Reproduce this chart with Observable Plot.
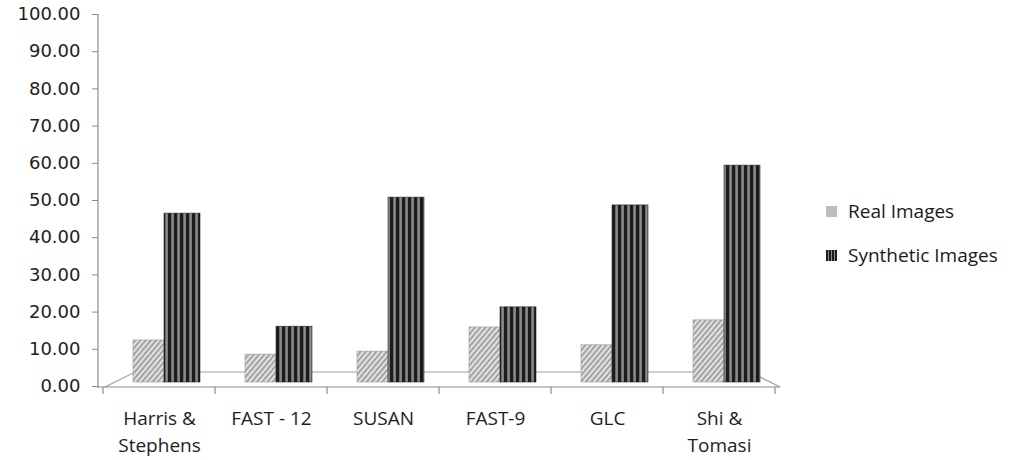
<!DOCTYPE html>
<html>
<head>
<meta charset="utf-8">
<script src="https://cdn.jsdelivr.net/npm/d3@7"></script>
<script src="https://cdn.jsdelivr.net/npm/@observablehq/plot@0.6"></script>
<style>
  html, body { margin: 0; padding: 0; background: #fff; }
  #wrap { position: relative; width: 1015px; height: 460px; }
  #legend { position: absolute; left: 826px; top: 189px; font-family: "Open Sans", sans-serif; font-size: 19px; color: #1a1a1a; }
  .item { display: flex; align-items: center; height: 44px; }
  .sw { width: 11px; height: 11px; margin-right: 11px; }
</style>
</head>
<body>
<div id="wrap"><div id="legend"></div></div>
<script>
// ---- data ----
const categories = ["Harris & Stephens", "FAST - 12", "SUSAN", "FAST-9", "GLC", "Shi & Tomasi"];
const categoryLabels = ["Harris &\nStephens", "FAST - 12", "SUSAN", "FAST-9", "GLC", "Shi &\nTomasi"];
const seriesNames = ["Real Images", "Synthetic Images"];
const realImages = [11.3, 7.5, 8.3, 14.8, 10.0, 16.7];
const syntheticImages = [45.4, 15.0, 49.7, 20.2, 47.6, 58.3];
const yTicks = [0, 10, 20, 30, 40, 50, 60, 70, 80, 90, 100];

const rows = categories.flatMap((c, i) => [
  {category: c, series: seriesNames[0], value: realImages[i]},
  {category: c, series: seriesNames[1], value: syntheticImages[i]}
]);
const labelOf = new Map(categories.map((c, i) => [c, categoryLabels[i]]));

// frame: floor parallelogram, axis lines, category ticks (drawn via scales)
function frame(index, scales, values, dims) {
  const x = scales.x, y = scales.y;
  const g = d3.create("svg:g").attr("fill", "none").attr("stroke", "#8c8c8c").attr("stroke-width", 1.2);
  const y0 = y(0), yTop = y(100);
  const bw = x.bandwidth();
  const xr = x(categories[categories.length - 1]) + bw;
  const left = dims.marginLeft;
  // floor
  g.append("path").attr("d", `M${left + 7},${y0 + 1}L${left + 37},${y0 - 14}L${xr - 25},${y0 - 14}L${xr + 5},${y0 + 1}`).attr("stroke", "#a0a0a0");
  // y axis line
  g.append("line").attr("x1", left).attr("x2", left).attr("y1", yTop).attr("y2", y0 + 2);
  // x axis line
  g.append("line").attr("x1", left).attr("x2", xr + 5).attr("y1", y0 + 1).attr("y2", y0 + 1);
  // category boundary ticks
  const bounds = categories.map(c => x(c)).concat([xr]);
  for (const b of bounds) g.append("line").attr("x1", b).attr("x2", b).attr("y1", y0 + 1).attr("y2", y0 + 8);
  return g.node();
}

const chart = Plot.plot({
  width: 1015,
  height: 460,
  marginLeft: 98,
  marginTop: 14,
  marginBottom: 74,
  marginRight: 240,
  style: {fontFamily: "DejaVu Sans", fontSize: "18px", color: "#1e1e1e", background: "#fff"},
  x: {domain: categories, range: [103, 775], padding: 0, axis: null, label: null},
  y: {domain: [0, 100], axis: null, label: null},
  marks: [
    frame,
    Plot.barY(rows.filter(d => d.series === seriesNames[0]), {
      x: "category", y: "value", dy: -4, insetLeft: 30, insetRight: 51,
      fill: "url(#realPat)", stroke: "#9a9a9a", strokeWidth: 0.6
    }),
    Plot.barY(rows.filter(d => d.series === seriesNames[1]), {
      x: "category", y: "value", dy: -4, insetLeft: 61, insetRight: 15,
      fill: "url(#synPat)", stroke: "#2a2a2a", strokeWidth: 0.6
    }),
    Plot.axisY({ticks: yTicks, tickFormat: d => d.toFixed(2), tickSize: 6, tickPadding: 12, stroke: "#8c8c8c", fontSize: 18, label: null}),
    Plot.axisX({tickSize: 0, tickPadding: 20, tickFormat: d => labelOf.get(d), fontFamily: "Open Sans", fontSize: 19, lineHeight: 1.4, label: null})
  ]
});

const defs = d3.select(chart).insert("defs", ":first-child");
const rp = defs.append("pattern").attr("id", "realPat").attr("patternUnits", "userSpaceOnUse")
  .attr("width", 4).attr("height", 4).attr("patternTransform", "rotate(40)");
rp.append("rect").attr("width", 4).attr("height", 4).attr("fill", "#e2e2e2");
rp.append("rect").attr("width", 1.8).attr("height", 4).attr("fill", "#9d9d9d");
const sp = defs.append("pattern").attr("id", "synPat").attr("patternUnits", "userSpaceOnUse")
  .attr("width", 6).attr("height", 6);
sp.append("rect").attr("width", 6).attr("height", 6).attr("fill", "#1c1c1c");
sp.append("rect").attr("x", 3).attr("width", 1.5).attr("height", 6).attr("fill", "#6a6a6a");
sp.append("rect").attr("x", 4.5).attr("width", 1).attr("height", 6).attr("fill", "#d8d8d8");

document.getElementById("wrap").prepend(chart);

// legend
const legend = d3.select("#legend");
seriesNames.forEach((s, i) => {
  const it = legend.append("div").attr("class", "item");
  const sv = it.append("svg").attr("class", "sw").attr("width", 11).attr("height", 11);
  if (i === 0) {
    sv.append("rect").attr("width", 11).attr("height", 11).attr("fill", "#bdbdbd");
  } else {
    for (let k = 0; k < 11; k += 3) {
      sv.append("rect").attr("x", k).attr("width", 2).attr("height", 11).attr("fill", "#1c1c1c");
      sv.append("rect").attr("x", k + 2).attr("width", 1).attr("height", 11).attr("fill", "#8a8a8a");
    }
  }
  it.append("span").text(s);
});
</script>
</body>
</html>
